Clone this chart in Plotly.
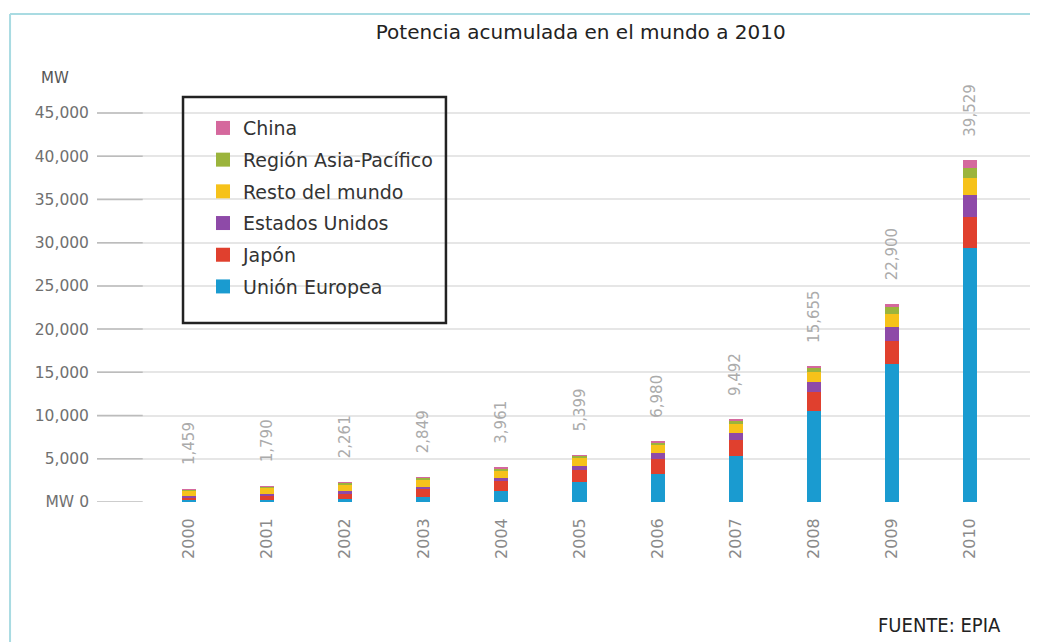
import plotly.graph_objects as go

# Cumulative installed PV capacity (MW) by region, 2000-2010
years = [2000, 2001, 2002, 2003, 2004, 2005, 2006, 2007, 2008, 2009, 2010]
union_europea = [185, 265, 400, 598, 1305, 2291, 3281, 5311, 10554, 16006, 29328]
japon = [330, 452, 637, 860, 1132, 1422, 1708, 1919, 2144, 2627, 3622]
estados_unidos = [139, 168, 212, 275, 376, 479, 624, 753, 1173, 1650, 2528]
resto_mundo = [685, 750, 827, 891, 883, 887, 977, 1019, 1150, 1520, 1972]
asia_pacifico = [100, 120, 140, 170, 200, 250, 310, 390, 489, 792, 1186]
china = [20, 35, 45, 55, 65, 70, 80, 100, 145, 305, 893]

series = [
    ("Unión Europea", union_europea, "#1a9bd0"),
    ("Japón", japon, "#e0402e"),
    ("Estados Unidos", estados_unidos, "#8e4aa8"),
    ("Resto del mundo", resto_mundo, "#f6c21a"),
    ("Región Asia-Pacífico", asia_pacifico, "#9bb43c"),
    ("China", china, "#d5689d"),
]

ytick_vals = [0, 5000, 10000, 15000, 20000, 25000, 30000, 35000, 40000, 45000]
ytick_text = ["MW 0", "5,000", "10,000", "15,000", "20,000", "25,000",
              "30,000", "35,000", "40,000", "45,000"]

totals = [sum(v) for v in zip(*[s[1] for s in series])]

fig = go.Figure()
n = len(series)
for i, (name, vals, color) in enumerate(series):
    fig.add_trace(go.Bar(
        x=years, y=vals, name=name, marker_color=color,
        marker_line_width=0, width=0.18, showlegend=False,
    ))
    # Legend entry with a larger square swatch
    fig.add_trace(go.Scatter(
        x=[None], y=[None], mode="markers", name=name, legendgroup=name,
        legendrank=n - i,
        marker=dict(symbol="square", size=14, color=color),
    ))

# Total labels above each bar, rotated
for yr, tot in zip(years, totals):
    fig.add_annotation(
        x=yr, y=tot, text=f"{tot:,}", textangle=-90, showarrow=False,
        yanchor="bottom", yshift=22, xref="x", yref="y",
        font=dict(family="DejaVu Sans, sans-serif", size=15, color="#ababab"),
    )

# Axis unit label
fig.add_annotation(
    x=-0.045, y=1.0547, xref="paper", yref="paper", text="MW", showarrow=False,
    xanchor="center", yanchor="middle",
    font=dict(family="DejaVu Sans, sans-serif", size=15, color="#555"),
)

# Source note
fig.add_annotation(
    x=0.9035, y=-0.305, xref="paper", yref="paper", text="FUENTE: EPIA", showarrow=False,
    xanchor="center", yanchor="middle",
    font=dict(family="DejaVu Sans Condensed, DejaVu Sans, sans-serif", size=20, color="#222"),
)

shapes = []
# Darker tick stubs at the left end of each grid line
for v in ytick_vals:
    shapes.append(dict(type="line", xref="paper", yref="y", x0=0, x1=0.049, y0=v, y1=v,
                       line=dict(color="#bcbcbc", width=1.5), layer="above"))
# Legend frame
shapes.append(dict(type="rect", xref="paper", yref="paper", x0=0.0922, x1=0.374,
                   y0=0.445, y1=1.0075, line=dict(color="#222", width=2.5)))
# Outer light-blue border (top and left)
shapes.append(dict(type="line", xref="paper", yref="paper", x0=-0.0932, x1=1.0,
                   y0=1.2139, y1=1.2139, line=dict(color="#a9dbe2", width=2)))
shapes.append(dict(type="line", xref="paper", yref="paper", x0=-0.0932, x1=-0.0932,
                   y0=1.2139, y1=-0.36, line=dict(color="#a9dbe2", width=2)))

fig.update_layout(
    width=1037, height=642,
    margin=dict(l=97, r=7, t=100, b=140, autoexpand=False),
    paper_bgcolor="white", plot_bgcolor="white",
    barmode="stack",
    title=dict(text="Potencia acumulada en el mundo a 2010", x=0.56, xanchor="center",
               y=0.95, yanchor="middle",
               font=dict(family="DejaVu Sans, sans-serif", size=20, color="#222")),
    showlegend=True,
    legend=dict(
        x=0.1136, y=0.9774, xanchor="left", yanchor="top",
        bgcolor="rgba(0,0,0,0)", borderwidth=0,
        tracegroupgap=4,
        font=dict(family="DejaVu Sans, sans-serif", size=19, color="#333"),
    ),
    shapes=shapes,
    xaxis=dict(
        range=[1998.82, 2010.77], tickmode="array", tickvals=years,
        ticktext=[str(y) for y in years], tickangle=-90, showgrid=False,
        zeroline=False, showline=False, ticks="", ticklabelstandoff=12,
        tickfont=dict(family="DejaVu Sans, sans-serif", size=16, color="#8a8a8a"),
    ),
    yaxis=dict(
        range=[0, 46505], tickmode="array", tickvals=ytick_vals, ticktext=ytick_text,
        showgrid=True, gridcolor="#e6e6e6", gridwidth=1.5, zeroline=False,
        showline=False, ticks="", ticklabelstandoff=7,
        tickfont=dict(family="DejaVu Sans, sans-serif", size=15.5, color="#707070"),
    ),
)

fig.write_html("out.html")
